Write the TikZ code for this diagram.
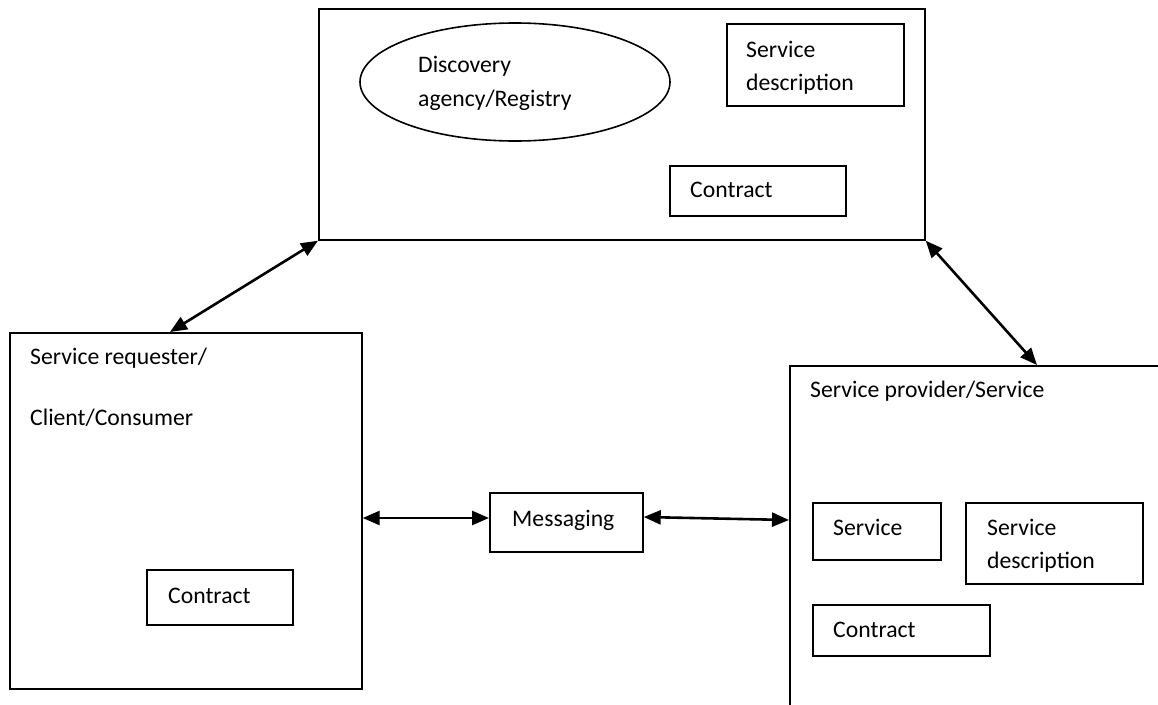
\documentclass[tikz,border=0pt]{standalone}
\usepackage{fontspec}
\setmainfont{Carlito}
\usetikzlibrary{shapes.geometric,arrows.meta,calc}
\begin{document}
\begin{tikzpicture}[x=1pt,y=-1pt,
  box/.style={draw,line width=1.7pt,rectangle,inner sep=0pt,anchor=north west},
  lbl/.style={anchor=base west,inner sep=0pt,font=\fontsize{23.7}{33}\selectfont},
  tip/.tip={Triangle[length=17pt,width=14pt]},
  arr/.style={line width=2.6pt,tip-tip}]
\useasboundingbox (0,0) rectangle (1158,704);

% discovery agency / registry
\node[box,minimum width=606pt,minimum height=231pt] (agency) at (318,8) {};
\node[draw,ellipse,line width=1.6pt,inner sep=0pt,minimum width=310pt,minimum height=118pt] (registry) at (515,82) {};
\node[lbl] (regA) at (418,72) {Discovery};
\node[lbl] (regB) at (418,106) {agency/Registry};
\node[box,minimum width=177pt,minimum height=82pt] (agSD) at (726,23) {};
\node[lbl] (agSDa) at (746,57) {Service};
\node[lbl] (agSDb) at (746,90) {description};
\node[box,minimum width=176pt,minimum height=50pt] (agC) at (669,165) {};
\node[lbl] (agCt) at (690,197) {Contract};

% service requester
\node[box,minimum width=352pt,minimum height=356pt] (req) at (9,332) {};
\node[lbl] (reqA) at (30,364) {Service requester/};
\node[lbl] (reqB) at (30,425) {Client/Consumer};
\node[box,minimum width=146pt,minimum height=55pt] (reqC) at (146,569) {};
\node[lbl] (reqCt) at (168,603) {Contract};

% messaging
\node[box,minimum width=153pt,minimum height=59pt] (msg) at (489,492) {};
\node[lbl] (msgt) at (512,526) {Messaging};

% service provider (runs past the right and bottom edges)
\begin{scope}
\clip (0,0) rectangle (1158,704);
\node[box,minimum width=420pt,minimum height=400pt] (prov) at (789,365) {};
\end{scope}
\node[lbl] (provt) at (810,397) {Service provider/Service};
\node[box,minimum width=128pt,minimum height=57pt] (svc) at (812,502) {};
\node[lbl] (svct) at (833,535) {Service};
\node[box,minimum width=177pt,minimum height=81pt] (pvSD) at (965,502) {};
\node[lbl] (pvSDa) at (987,535) {Service};
\node[lbl] (pvSDb) at (987,568) {description};
\node[box,minimum width=177pt,minimum height=51pt] (pvC) at (812,604) {};
\node[lbl] (pvCt) at (833,637) {Contract};

% connectors
\draw[arr] (agency.south west) -- ($(req.north west)+(161,0)$);
\draw[arr] (agency.south east) -- ($(prov.north west)+(248,0)$);
\draw[arr] ($(req.north east)+(0,186)$) -- ($(msg.north west)+(0,26)$);
\draw[arr] ($(msg.north east)+(0,25)$) -- ($(prov.north west)+(0,155)$);
\end{tikzpicture}
\end{document}
